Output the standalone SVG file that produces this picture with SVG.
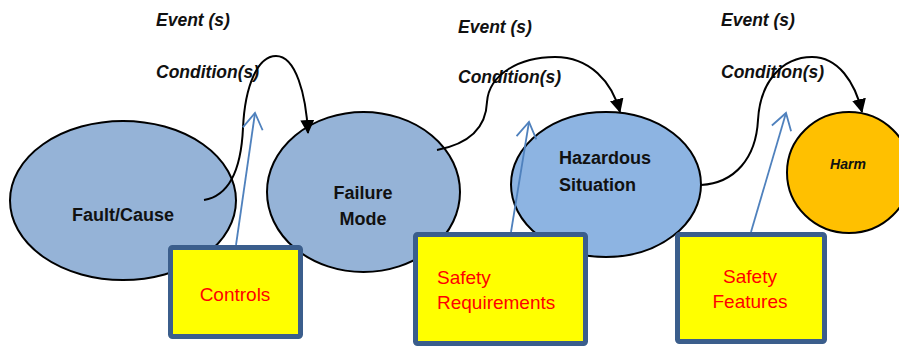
<svg xmlns="http://www.w3.org/2000/svg" width="899" height="346" viewBox="0 0 899 346">
  <style>
    .node { stroke: #000; stroke-width: 2; }
    .blue { fill: #95B3D7; }
    .blue2 { fill: #8DB4E2; }
    .harm { fill: #FFC000; }
    .label { font-family: "Liberation Sans", Arial, sans-serif; font-weight: bold; font-size: 18px; fill: #111; }
    .cond { font-family: "Liberation Sans", Arial, sans-serif; font-weight: bold; font-style: italic; font-size: 17.5px; fill: #111; }
    .box { fill: #FFFF00; stroke: #3B5E8C; stroke-width: 5; }
    .boxtext { font-family: "Liberation Sans", Arial, sans-serif; font-size: 19px; fill: #FF0000; }
    .flow { fill: none; stroke: #000; stroke-width: 2; }
    .ctrl { fill: none; stroke: #4F81BD; stroke-width: 1.8; }
  </style>
  <defs>
    <marker id="solid" viewBox="0 0 14 14" refX="13" refY="7" markerWidth="14" markerHeight="14" markerUnits="userSpaceOnUse" orient="auto">
      <path d="M0,0 L14,7 L0,14 Z" fill="#000"/>
    </marker>
    <marker id="open" viewBox="0 0 22 22" refX="20" refY="11" markerWidth="22" markerHeight="22" markerUnits="userSpaceOnUse" orient="auto">
      <path d="M4,1 L20,11 L4,21" fill="none" stroke="#4F81BD" stroke-width="1.8"/>
    </marker>
  </defs>

  <!-- condition labels -->
  <g id="conditions">
    <text class="cond" x="156" y="26">Event (s)</text>
    <text class="cond" x="156" y="78">Condition(s)</text>
    <text class="cond" x="458" y="33">Event (s)</text>
    <text class="cond" x="458" y="83">Condition(s)</text>
    <text class="cond" x="721" y="26">Event (s)</text>
    <text class="cond" x="721" y="78">Condition(s)</text>
  </g>

  <g id="fault-cause">
    <ellipse class="node blue" cx="123" cy="200.5" rx="113" ry="79.5"/>
    <text class="label" x="123" y="221" text-anchor="middle">Fault/Cause</text>
  </g>

  <g id="failure-mode">
    <ellipse class="node blue" cx="363.5" cy="192" rx="96.5" ry="80"/>
    <text class="label" x="363" y="199" text-anchor="middle">Failure</text>
    <text class="label" x="363" y="225" text-anchor="middle">Mode</text>
  </g>

  <g id="hazardous-situation">
    <ellipse class="node blue2" cx="606" cy="184.5" rx="95" ry="72.5"/>
    <text class="label" x="559" y="164">Hazardous</text>
    <text class="label" x="559" y="191">Situation</text>
  </g>

  <g id="harm">
    <ellipse class="node harm" cx="849" cy="172.5" rx="62" ry="60.5"/>
    <text class="cond" x="848" y="169" text-anchor="middle" style="font-size:14px">Harm</text>
  </g>

  <!-- connectors: event chain and control arrows -->
  <g id="connectors">
    <path class="flow" d="M204,200 C228,196 241,172 243,128 C245,85 258,56 276,56 C296,56 306,95 308,133" marker-end="url(#solid)"/>
    <path class="flow" d="M437,150 C468,144 486,128 487,102 C489,74 520,57 555,57 C590,57 612,82 620,112" marker-end="url(#solid)"/>
    <path class="flow" d="M701,185 C735,183 756,158 758,120 C760,82 782,57 812,57 C838,57 855,82 862,112" marker-end="url(#solid)"/>
    <line class="ctrl" x1="236" y1="245" x2="255" y2="113" marker-end="url(#open)"/>
    <line class="ctrl" x1="511" y1="232" x2="529" y2="122" marker-end="url(#open)"/>
    <line class="ctrl" x1="751" y1="232" x2="786" y2="113" marker-end="url(#open)"/>
  </g>

  <g id="controls">
    <rect class="box" x="170.5" y="247.5" width="130" height="89" rx="2"/>
    <text class="boxtext" x="235" y="301" text-anchor="middle">Controls</text>
  </g>

  <g id="safety-requirements">
    <rect class="box" x="415.5" y="234.5" width="170" height="109" rx="2"/>
    <text class="boxtext" x="437" y="284">Safety</text>
    <text class="boxtext" x="437" y="309">Requirements</text>
  </g>

  <g id="safety-features">
    <rect class="box" x="677.5" y="234.5" width="147" height="107" rx="2"/>
    <text class="boxtext" x="750" y="283" text-anchor="middle">Safety</text>
    <text class="boxtext" x="750" y="308" text-anchor="middle">Features</text>
  </g>
</svg>
